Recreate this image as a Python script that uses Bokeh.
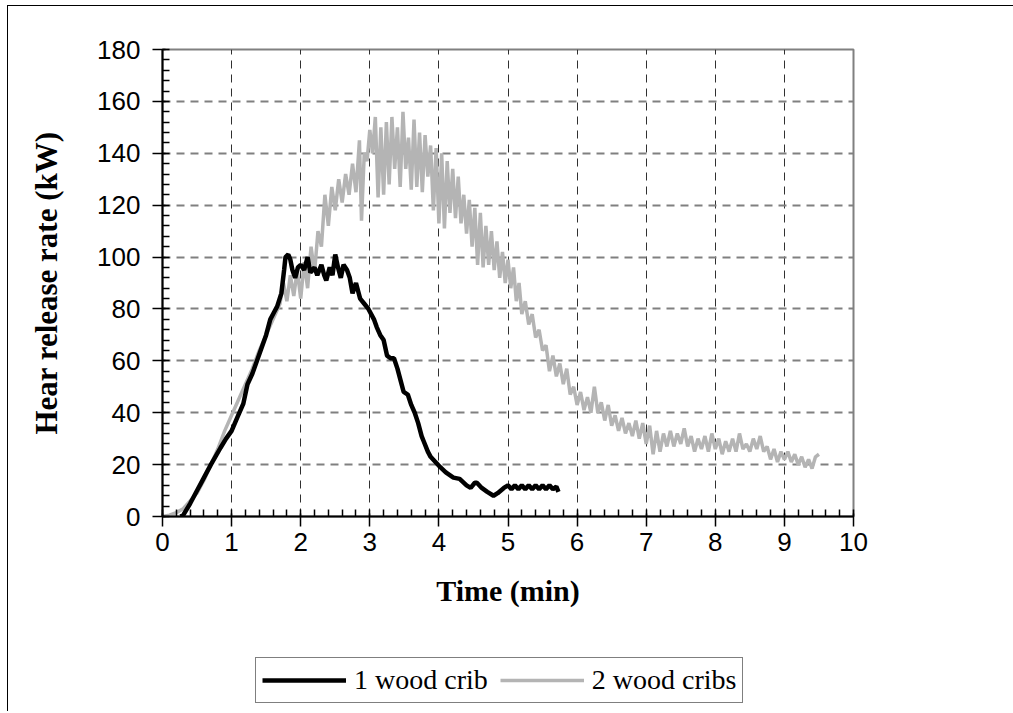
from bokeh.plotting import figure
from bokeh.layouts import column
from bokeh.models import Range1d, SingleIntervalTicker, Legend, LegendItem
from bokeh.embed import file_html
from bokeh.resources import INLINE

# 1 wood crib (time in min, heat release rate in kW)
t1 = [0.26, 0.3, 0.4, 0.5, 0.55, 0.6, 0.7, 0.84, 0.92, 1.0, 1.08, 1.17, 1.23, 1.3, 1.42, 1.5,
      1.56, 1.62, 1.66, 1.72, 1.76, 1.78, 1.82, 1.85, 1.88, 1.92, 1.96, 2.0, 2.05, 2.1, 2.14,
      2.2, 2.24, 2.3, 2.34, 2.37, 2.42, 2.46, 2.5, 2.54, 2.58, 2.62, 2.67, 2.71, 2.75, 2.8,
      2.86, 2.92, 2.98, 3.06, 3.1, 3.15, 3.2, 3.25, 3.3, 3.35, 3.4, 3.45, 3.49, 3.55, 3.6,
      3.65, 3.7, 3.75, 3.78, 3.84, 3.88, 3.95, 4.02, 4.1, 4.21, 4.3, 4.4, 4.46, 4.52, 4.55,
      4.62, 4.7, 4.79, 4.85, 4.94, 5.0, 5.05, 5.1, 5.15, 5.2, 5.25, 5.3, 5.35, 5.4, 5.45,
      5.5, 5.55, 5.6, 5.65, 5.7, 5.73]
v1 = [0, 0.5, 5, 10, 12.5, 15, 20, 26.5, 30, 33, 38, 43.5, 51, 55, 64, 70,
      76, 79, 81, 86, 95, 100, 101, 99, 95, 92, 96, 97, 95, 100, 94,
      96, 93, 97, 93, 91, 96, 93, 101, 96, 92, 97, 95, 92, 86, 90,
      84, 82, 80, 76, 73, 70, 68, 62, 61, 61, 57, 52, 48, 47, 43,
      40, 36, 31, 29, 25, 23, 21, 19, 17, 15, 14.5, 12, 11, 13, 13,
      11, 9.5, 8, 9, 11, 12, 10.5, 12, 10.5, 12, 10.5, 12, 10.5, 12, 10.5,
      12, 10.5, 12, 10.5, 11.5, 9.5]

# 2 wood cribs
t2 = [0.0, 0.1, 0.2, 0.3, 0.4, 0.5, 0.6, 0.7, 0.8, 0.9, 1.0, 1.1, 1.2, 1.3, 1.4, 1.5, 1.6, 1.7,
      1.75, 1.8, 1.85, 1.9, 1.95, 2.0, 2.05, 2.1, 2.15, 2.2, 2.25, 2.3, 2.35, 2.4, 2.45, 2.5,
      2.55, 2.6, 2.65, 2.7, 2.75, 2.8, 2.85, 2.88, 2.92, 2.96, 3.0, 3.04, 3.08, 3.12, 3.16,
      3.2, 3.24, 3.28, 3.32, 3.36, 3.4, 3.44, 3.48, 3.52, 3.56, 3.6, 3.64, 3.68, 3.72, 3.76,
      3.8, 3.84, 3.88, 3.92, 3.96, 4.0, 4.04, 4.08, 4.12, 4.16, 4.2, 4.24, 4.28, 4.32, 4.36,
      4.4, 4.44, 4.48, 4.52, 4.56, 4.6, 4.64, 4.68, 4.72, 4.76, 4.8, 4.84, 4.88, 4.92, 4.96,
      5.0, 5.04, 5.08, 5.12, 5.16, 5.2, 5.25, 5.3, 5.35, 5.4, 5.45, 5.5, 5.55, 5.6, 5.65,
      5.7, 5.75, 5.8, 5.85, 5.9, 5.95, 6.0, 6.05, 6.1, 6.15, 6.2, 6.25, 6.3, 6.35, 6.4, 6.45,
      6.5, 6.55, 6.6, 6.65, 6.7, 6.75, 6.8, 6.85, 6.9, 6.95, 7.0, 7.05, 7.1, 7.15, 7.2, 7.25,
      7.3, 7.35, 7.4, 7.45, 7.5, 7.55, 7.6, 7.65, 7.7, 7.75, 7.8, 7.85, 7.9, 7.95, 8.0, 8.05,
      8.1, 8.15, 8.2, 8.25, 8.3, 8.35, 8.4, 8.45, 8.5, 8.55, 8.6, 8.65, 8.7, 8.75, 8.8, 8.85,
      8.9, 8.95, 9.0, 9.05, 9.1, 9.15, 9.2, 9.25, 9.3, 9.35, 9.4, 9.45, 9.5]
v2 = [0, 0.5, 1.5, 3, 6, 9, 14, 20, 26, 33, 39, 45, 51, 57, 64, 70, 76, 82,
      90, 83, 93, 85, 95, 84, 98, 88, 104, 94, 110, 104, 124, 112, 127, 118,
      130, 121, 132, 124, 136, 125, 145, 114, 140, 137, 149, 140, 154, 123, 150,
      124, 152, 128, 154, 134, 150, 127, 156, 134, 146, 126, 153, 127, 148, 125,
      147, 131, 143, 118, 142, 113, 140, 111, 137, 117, 134, 115, 131, 113, 124,
      109, 122, 104, 119, 97, 117, 96, 112, 97, 110, 95, 106, 92, 102, 90,
      99, 88, 96, 83, 90, 78, 83, 74, 78, 69, 72, 64, 66, 56, 62,
      54, 59, 51, 57, 47, 50, 43, 48, 41, 46, 40, 50, 40, 44, 37, 43,
      35, 39, 33, 38, 32, 36, 31, 37, 30, 36, 28, 35, 24, 33, 25, 32,
      27, 33, 27, 32, 28, 34, 27, 31, 25, 30, 26, 31, 25, 32, 26, 30,
      24, 29, 25, 30, 25, 32, 26, 28, 25, 30, 26, 31, 25, 27, 22, 26,
      21, 25, 22, 25, 21, 24, 20, 23, 19, 22, 18.5, 23, 24]

series_names = ["1 wood crib", "2 wood cribs"]
x_ticks_interval = 1
y_ticks_interval = 20

p = figure(width=1005, height=620, output_backend="svg", toolbar_location=None,
           x_range=Range1d(0, 10), y_range=Range1d(0, 180),
           min_border_left=154, min_border_right=160, min_border_top=43, min_border_bottom=110)

p.xaxis.ticker = SingleIntervalTicker(interval=x_ticks_interval, num_minor_ticks=5)
p.yaxis.ticker = SingleIntervalTicker(interval=y_ticks_interval, num_minor_ticks=5)

for ax in (p.xaxis[0], p.yaxis[0]):
    ax.axis_line_color = "#000000"
    ax.axis_line_width = 2
    ax.major_tick_line_color = "#000000"
    ax.minor_tick_line_color = "#000000"
    ax.major_tick_line_width = 1.5
    ax.minor_tick_line_width = 1.5
    ax.major_tick_out = 10
    ax.major_tick_in = 3
    ax.minor_tick_out = 0
    ax.minor_tick_in = 7
    ax.major_label_text_font = "Liberation Sans"
    ax.major_label_text_font_size = "26px"
    ax.major_label_text_color = "#000000"
    ax.axis_label_text_font = "Liberation Serif"
    ax.axis_label_text_font_style = "bold"
    ax.axis_label_text_color = "#000000"

p.xaxis.axis_label = "Time (min)"
p.yaxis.axis_label = "Hear release rate (kW)"
p.xaxis.axis_label_text_font_size = "30px"
p.yaxis.axis_label_text_font_size = "31px"
p.xaxis.major_label_standoff = 6
p.yaxis.major_label_standoff = 12
p.xaxis.axis_label_standoff = 20
p.yaxis.axis_label_standoff = 30

p.xgrid.grid_line_color = "#303030"
p.xgrid.grid_line_width = 1
p.xgrid.grid_line_dash = "8 6"
p.ygrid.grid_line_color = "#808080"
p.ygrid.grid_line_width = 2
p.ygrid.grid_line_dash = "8 6"

p.outline_line_color = "#808080"
p.outline_line_width = 2

p.line(t2, v2, line_color="#b4b4b4", line_width=3.5)
p.line(t1, v1, line_color="#000000", line_width=4.5)

# legend strip below the chart (its frame is aligned with the chart's frame)
pl = figure(width=1005, height=85, output_backend="svg", toolbar_location=None,
            x_range=Range1d(100, 101), y_range=Range1d(100, 101),
            x_axis_type=None, y_axis_type=None,
            min_border_left=0, min_border_right=0, min_border_top=0, min_border_bottom=0)
pl.grid.visible = False
pl.outline_line_color = None
l1 = pl.line(t1, v1, line_color="#000000", line_width=4.5)
l2 = pl.line(t2, v2, line_color="#b4b4b4", line_width=3.5)
legend = Legend(items=[LegendItem(label=series_names[0], renderers=[l1]),
                       LegendItem(label=series_names[1], renderers=[l2])],
                orientation="horizontal", location=(93, 8),
                label_text_font="Liberation Serif", label_text_font_size="28px",
                label_text_color="#000000", glyph_width=84, glyph_height=28,
                spacing=12, padding=6, margin=0, label_standoff=8,
                border_line_color="#000000", border_line_width=1,
                background_fill_alpha=1.0)
pl.add_layout(legend, "center")

layout = column(p, pl, spacing=0,
                styles={"margin-left": "7px", "margin-top": "5px",
                        "border-left": "1px solid #000", "border-top": "1px solid #000"})

open("out.html", "w").write(file_html(layout, INLINE))
